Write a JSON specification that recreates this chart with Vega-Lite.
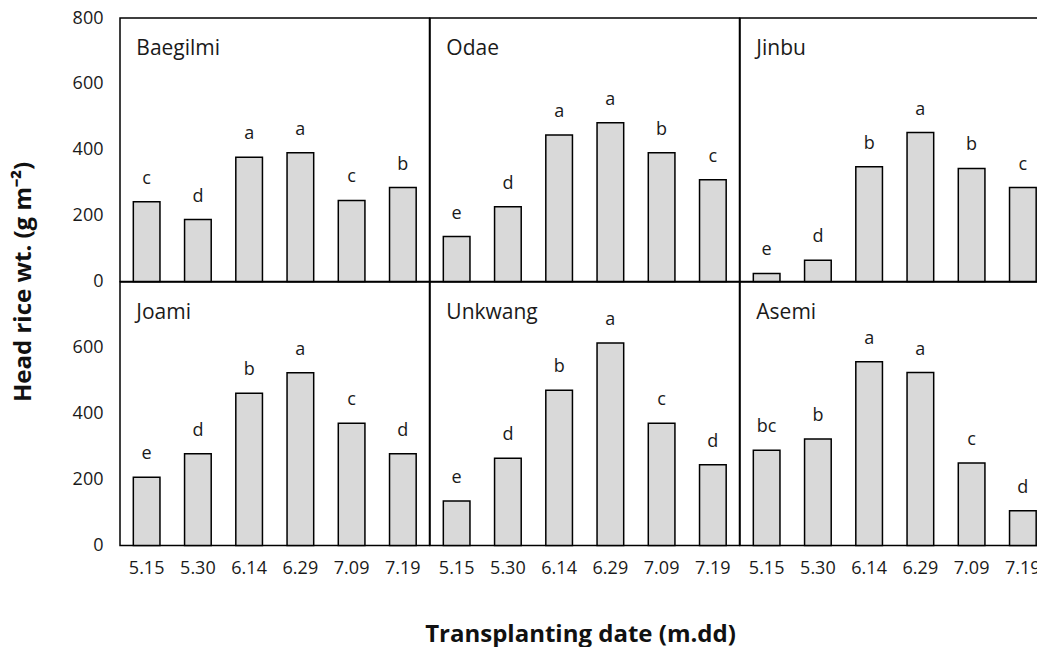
{
  "$schema": "https://vega.github.io/schema/vega-lite/v6.json",
  "background": "white",
  "padding": {"left": 10, "top": 8, "right": -11, "bottom": 0},
  "bounds": "flush",
  "spacing": 0,
  "columns": 3,
  "config": {
    "font": "Open Sans",
    "view": {"stroke": "black", "strokeWidth": 1.5},
    "axis": {
      "grid": false,
      "ticks": false,
      "domain": false,
      "labelColor": "#1a1a1a",
      "labelFontSize": 18,
      "labelFont": "Open Sans",
      "titleColor": "#111111",
      "titleFont": "Open Sans",
      "titleFontSize": 24,
      "titleFontWeight": "bold"
    },
    "bar": {"fill": "#d9d9d9", "stroke": "black", "strokeWidth": 1.5},
    "text": {"color": "#1a1a1a", "font": "Open Sans"}
  },
  "datasets": {
    "rice": [
      {"variety": "Baegilmi", "date": "5.15", "wt": 242, "letter": "c"},
      {"variety": "Baegilmi", "date": "5.30", "wt": 188, "letter": "d"},
      {"variety": "Baegilmi", "date": "6.14", "wt": 377, "letter": "a"},
      {"variety": "Baegilmi", "date": "6.29", "wt": 391, "letter": "a"},
      {"variety": "Baegilmi", "date": "7.09", "wt": 246, "letter": "c"},
      {"variety": "Baegilmi", "date": "7.19", "wt": 285, "letter": "b"},
      {"variety": "Odae", "date": "5.15", "wt": 136, "letter": "e"},
      {"variety": "Odae", "date": "5.30", "wt": 227, "letter": "d"},
      {"variety": "Odae", "date": "6.14", "wt": 445, "letter": "a"},
      {"variety": "Odae", "date": "6.29", "wt": 482, "letter": "a"},
      {"variety": "Odae", "date": "7.09", "wt": 391, "letter": "b"},
      {"variety": "Odae", "date": "7.19", "wt": 309, "letter": "c"},
      {"variety": "Jinbu", "date": "5.15", "wt": 24, "letter": "e"},
      {"variety": "Jinbu", "date": "5.30", "wt": 64, "letter": "d"},
      {"variety": "Jinbu", "date": "6.14", "wt": 348, "letter": "b"},
      {"variety": "Jinbu", "date": "6.29", "wt": 452, "letter": "a"},
      {"variety": "Jinbu", "date": "7.09", "wt": 343, "letter": "b"},
      {"variety": "Jinbu", "date": "7.19", "wt": 285, "letter": "c"},
      {"variety": "Joami", "date": "5.15", "wt": 207, "letter": "e"},
      {"variety": "Joami", "date": "5.30", "wt": 278, "letter": "d"},
      {"variety": "Joami", "date": "6.14", "wt": 462, "letter": "b"},
      {"variety": "Joami", "date": "6.29", "wt": 524, "letter": "a"},
      {"variety": "Joami", "date": "7.09", "wt": 371, "letter": "c"},
      {"variety": "Joami", "date": "7.19", "wt": 278, "letter": "d"},
      {"variety": "Unkwang", "date": "5.15", "wt": 135, "letter": "e"},
      {"variety": "Unkwang", "date": "5.30", "wt": 265, "letter": "d"},
      {"variety": "Unkwang", "date": "6.14", "wt": 471, "letter": "b"},
      {"variety": "Unkwang", "date": "6.29", "wt": 615, "letter": "a"},
      {"variety": "Unkwang", "date": "7.09", "wt": 371, "letter": "c"},
      {"variety": "Unkwang", "date": "7.19", "wt": 245, "letter": "d"},
      {"variety": "Asemi", "date": "5.15", "wt": 289, "letter": "bc"},
      {"variety": "Asemi", "date": "5.30", "wt": 323, "letter": "b"},
      {"variety": "Asemi", "date": "6.14", "wt": 558, "letter": "a"},
      {"variety": "Asemi", "date": "6.29", "wt": 525, "letter": "a"},
      {"variety": "Asemi", "date": "7.09", "wt": 250, "letter": "c"},
      {"variety": "Asemi", "date": "7.19", "wt": 105, "letter": "d"}
    ]
  },
  "data": {"name": "rice"},
  "resolve": {"scale": {"x": "independent", "y": "independent"}},
  "concat": [
    {
      "width": 309.5,
      "height": 263.4,
      "transform": [{"filter": "datum.variety == 'Baegilmi'"}],
      "encoding": {
        "x": {"field": "date", "type": "ordinal", "scale": {"paddingInner": 0.48, "paddingOuter": 0.26}, "axis": null},
        "y": {
          "field": "wt",
          "type": "quantitative",
          "scale": {"domain": [0, 800], "nice": false},
          "axis": {
            "values": [0, 200, 400, 600, 800],
            "labelPadding": 17,
            "title": "Head rice wt. (g m⁻²)",
            "titleAngle": -90,
            "titleAlign": "center",
            "titleBaseline": "middle",
            "titleX": -97,
            "titleY": 263.4
          }
        }
      },
      "layer": [
        {"mark": "bar"},
        {"mark": {"type": "text", "baseline": "middle", "dy": -23, "fontSize": 18}, "encoding": {"text": {"field": "letter"}}},
        {
          "transform": [{"filter": "datum.date == '5.15'"}],
          "mark": {"type": "text", "align": "left", "baseline": "middle", "dx": 3, "fontSize": 21},
          "encoding": {"x": {"field": "date", "type": "ordinal", "bandPosition": 0}, "y": {"datum": 707}, "text": {"field": "variety"}}
        }
      ]
    },
    {
      "width": 309.5,
      "height": 263.4,
      "transform": [{"filter": "datum.variety == 'Odae'"}],
      "encoding": {
        "x": {"field": "date", "type": "ordinal", "scale": {"paddingInner": 0.48, "paddingOuter": 0.26}, "axis": null},
        "y": {"field": "wt", "type": "quantitative", "scale": {"domain": [0, 800], "nice": false}, "axis": null}
      },
      "layer": [
        {"mark": "bar"},
        {"mark": {"type": "text", "baseline": "middle", "dy": -23, "fontSize": 18}, "encoding": {"text": {"field": "letter"}}},
        {
          "transform": [{"filter": "datum.date == '5.15'"}],
          "mark": {"type": "text", "align": "left", "baseline": "middle", "dx": 3, "fontSize": 21},
          "encoding": {"x": {"field": "date", "type": "ordinal", "bandPosition": 0}, "y": {"datum": 707}, "text": {"field": "variety"}}
        }
      ]
    },
    {
      "width": 309.5,
      "height": 263.4,
      "transform": [{"filter": "datum.variety == 'Jinbu'"}],
      "encoding": {
        "x": {"field": "date", "type": "ordinal", "scale": {"paddingInner": 0.48, "paddingOuter": 0.26}, "axis": null},
        "y": {"field": "wt", "type": "quantitative", "scale": {"domain": [0, 800], "nice": false}, "axis": null}
      },
      "layer": [
        {"mark": "bar"},
        {"mark": {"type": "text", "baseline": "middle", "dy": -23, "fontSize": 18}, "encoding": {"text": {"field": "letter"}}},
        {
          "transform": [{"filter": "datum.date == '5.15'"}],
          "mark": {"type": "text", "align": "left", "baseline": "middle", "dx": 3, "fontSize": 21},
          "encoding": {"x": {"field": "date", "type": "ordinal", "bandPosition": 0}, "y": {"datum": 707}, "text": {"field": "variety"}}
        }
      ]
    },
    {
      "width": 309.5,
      "height": 263.4,
      "transform": [{"filter": "datum.variety == 'Joami'"}],
      "encoding": {
        "x": {
          "field": "date",
          "type": "ordinal",
          "scale": {"paddingInner": 0.48, "paddingOuter": 0.26},
          "axis": {"labelAngle": 0, "labelPadding": 14, "title": null}
        },
        "y": {
          "field": "wt",
          "type": "quantitative",
          "scale": {"domain": [0, 800], "nice": false},
          "axis": {"values": [0, 200, 400, 600], "labelPadding": 17, "title": null}
        }
      },
      "layer": [
        {"mark": "bar"},
        {"mark": {"type": "text", "baseline": "middle", "dy": -23, "fontSize": 18}, "encoding": {"text": {"field": "letter"}}},
        {
          "transform": [{"filter": "datum.date == '5.15'"}],
          "mark": {"type": "text", "align": "left", "baseline": "middle", "dx": 3, "fontSize": 21},
          "encoding": {"x": {"field": "date", "type": "ordinal", "bandPosition": 0}, "y": {"datum": 707}, "text": {"field": "variety"}}
        }
      ]
    },
    {
      "width": 309.5,
      "height": 263.4,
      "transform": [{"filter": "datum.variety == 'Unkwang'"}],
      "encoding": {
        "x": {
          "field": "date",
          "type": "ordinal",
          "scale": {"paddingInner": 0.48, "paddingOuter": 0.26},
          "axis": {
            "labelAngle": 0,
            "labelPadding": 14,
            "title": "Transplanting date (m.dd)",
            "titleBaseline": "middle",
            "titleY": 89,
            "titleX": 150
          }
        },
        "y": {"field": "wt", "type": "quantitative", "scale": {"domain": [0, 800], "nice": false}, "axis": null}
      },
      "layer": [
        {"mark": "bar"},
        {"mark": {"type": "text", "baseline": "middle", "dy": -23, "fontSize": 18}, "encoding": {"text": {"field": "letter"}}},
        {
          "transform": [{"filter": "datum.date == '5.15'"}],
          "mark": {"type": "text", "align": "left", "baseline": "middle", "dx": 3, "fontSize": 21},
          "encoding": {"x": {"field": "date", "type": "ordinal", "bandPosition": 0}, "y": {"datum": 707}, "text": {"field": "variety"}}
        }
      ]
    },
    {
      "width": 309.5,
      "height": 263.4,
      "transform": [{"filter": "datum.variety == 'Asemi'"}],
      "encoding": {
        "x": {
          "field": "date",
          "type": "ordinal",
          "scale": {"paddingInner": 0.48, "paddingOuter": 0.26},
          "axis": {"labelAngle": 0, "labelPadding": 14, "title": null}
        },
        "y": {"field": "wt", "type": "quantitative", "scale": {"domain": [0, 800], "nice": false}, "axis": null}
      },
      "layer": [
        {"mark": "bar"},
        {"mark": {"type": "text", "baseline": "middle", "dy": -23, "fontSize": 18}, "encoding": {"text": {"field": "letter"}}},
        {
          "transform": [{"filter": "datum.date == '5.15'"}],
          "mark": {"type": "text", "align": "left", "baseline": "middle", "dx": 3, "fontSize": 21},
          "encoding": {"x": {"field": "date", "type": "ordinal", "bandPosition": 0}, "y": {"datum": 707}, "text": {"field": "variety"}}
        }
      ]
    }
  ]
}
